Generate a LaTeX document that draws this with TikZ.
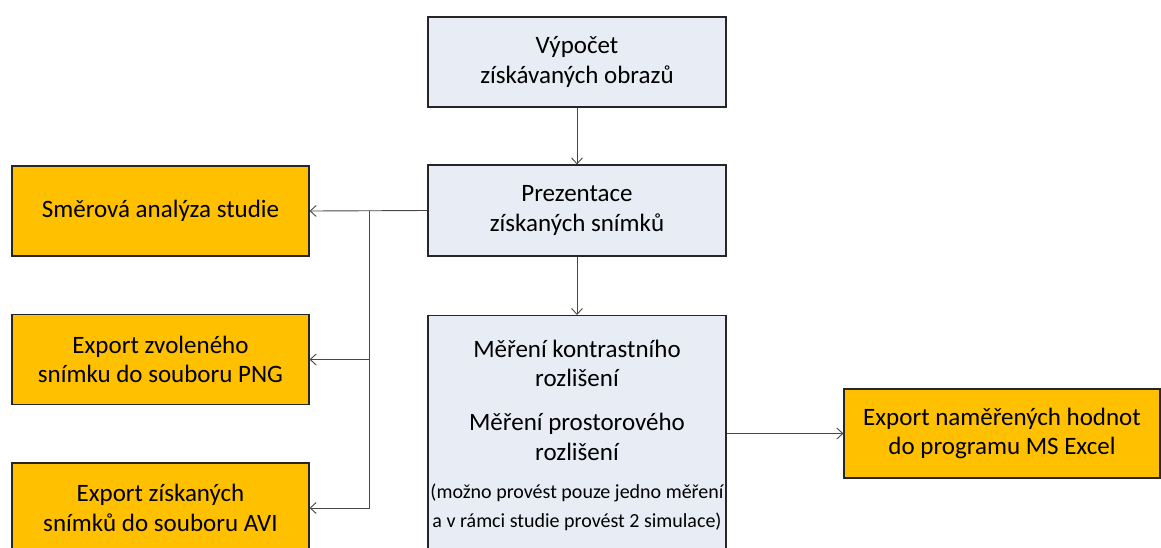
\documentclass[tikz,border=0pt]{standalone}
\usepackage{fontspec}
\setmainfont{Carlito}
\usetikzlibrary{arrows.meta}
\definecolor{boxblue}{RGB}{232,236,244}
\definecolor{boxgold}{RGB}{255,192,0}
\begin{document}
\begin{tikzpicture}[x=1pt,y=-1pt,
  basebox/.style={draw=black!85, line width=1.1pt, minimum width=298pt, minimum height=90pt,
    align=center, inner sep=0pt, font=\fontsize{25}{29.5}\selectfont},
  bluebox/.style={basebox, fill=boxblue},
  goldbox/.style={basebox, fill=boxgold},
  txt/.style={align=center, inner sep=0pt, font=\fontsize{25}{29.5}\selectfont},
  smalltxt/.style={align=center, inner sep=0pt, font=\fontsize{20}{29}\selectfont},
  conn/.style={draw=black!72, line width=0.9pt, -{Straight Barb[length=6pt,width=11pt]}},
  plain/.style={draw=black!72, line width=0.9pt}]
\useasboundingbox (0,0) rectangle (1161,547);
\clip (0,0) rectangle (1161,547);

\node[bluebox] (calc) at (577,62) {Výpočet\\získávaných obrazů};
\node[bluebox, minimum height=91pt] (pres) at (577,210.5) {Prezentace\\získaných snímků};
\node[bluebox, anchor=north, minimum height=245pt] (meas) at (577,315) {};

\node[txt] (m1) at (577,363.5) {Měření kontrastního\\rozlišení};
\node[txt] (m2) at (577,437) {Měření prostorového\\rozlišení};
\node[smalltxt] (m3) at (577,507.5) {(možno provést pouze jedno měření\\a v rámci studie provést 2 simulace)};

\node[goldbox, minimum width=297pt] (smer) at (160.5,211) {Směrová analýza studie};
\node[goldbox, minimum width=297pt] (png) at (160.5,359.5) {Export zvoleného\\snímku do souboru PNG};
\node[goldbox, minimum width=297pt] (avi) at (160.5,508) {Export získaných\\snímků do souboru AVI};
\node[goldbox, minimum width=316pt, minimum height=89pt] (excel) at (1002,433.5) {Export naměřených hodnot\\do programu MS Excel};

\draw[conn] (calc.south) -- (pres.north);
\draw[conn] (pres.south) -- (meas.north);
\draw[conn] (pres.west) -- (smer.east);
\coordinate (j) at (369,211);
\draw[conn] (j) |- (png.east);
\draw[conn] (j) |- (avi.east);
\draw[conn] (meas.east |- excel.west) -- (excel.west);
\end{tikzpicture}
\end{document}
